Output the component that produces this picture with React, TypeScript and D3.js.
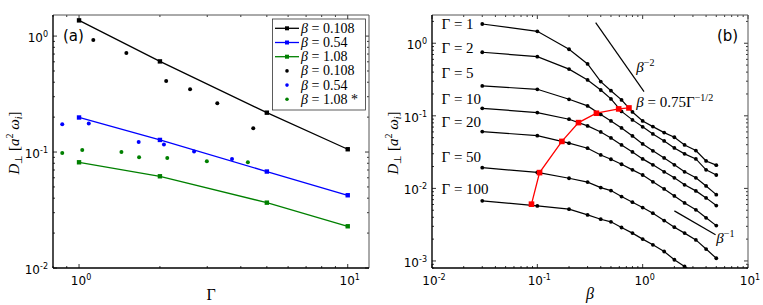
import { useRef, useEffect } from 'react';
import * as d3 from 'd3';

// ---- panel (a): D vs Gamma ----
const gammaFit = [1, 2, 5, 10];
const fitB0108 = [1.366, 0.605, 0.2185, 0.1057];
const fitB054 = [0.1986, 0.1272, 0.0679, 0.0424];
const fitB108 = [0.0816, 0.0618, 0.0366, 0.0229];

const dotsB0108Gamma = [1.13, 1.5, 2.11, 2.59, 3.27, 4.45];
const dotsB0108D = [0.924, 0.713, 0.409, 0.348, 0.264, 0.1605];
const dotsB054Gamma = [0.866, 1.087, 1.667, 2.07, 2.68, 3.71];
const dotsB054D = [0.174, 0.176, 0.1223, 0.116, 0.101, 0.0872];
const dotsB108Gamma = [0.866, 1.028, 1.438, 1.673, 2.13, 2.99, 4.25];
const dotsB108D = [0.0982, 0.1043, 0.1002, 0.0902, 0.0889, 0.0833, 0.0816];

const legendLabels = ['0.108', '0.54', '1.08', '0.108', '0.54', '1.08 *'];

// ---- panel (b): D vs beta ----
const betas = [0.03, 0.1, 0.2, 0.3, 0.4, 0.5, 0.63, 0.8, 1.0, 1.25, 1.6, 2.0, 2.5, 3.2, 4.0, 5.0];
const gammas = [1, 2, 5, 10, 20, 50, 100];
const dG1 = [1.84, 1.46, 0.827, 0.519, 0.296, 0.222, 0.1656, 0.113, 0.0851, 0.071, 0.0587, 0.0507, 0.0397, 0.0332, 0.0239, 0.0209];
const dG2 = [0.752, 0.653, 0.44, 0.312, 0.227, 0.171, 0.115, 0.0879, 0.0705, 0.0563, 0.0451, 0.0361, 0.0299, 0.0255, 0.018, 0.0153];
const dG5 = [0.258, 0.232, 0.169, 0.137, 0.1045, 0.0851, 0.068, 0.0528, 0.041, 0.0329, 0.0263, 0.0211, 0.0169, 0.014, 0.0108, 0.0082];
const dG10 = [0.127, 0.1107, 0.0898, 0.0726, 0.06, 0.0496, 0.0397, 0.0318, 0.0255, 0.0211, 0.0169, 0.014, 0.0112, 0.00924, 0.0074, 0.0058];
const dG20 = [0.0606, 0.0533, 0.042, 0.0358, 0.0289, 0.0252, 0.0215, 0.018, 0.0153, 0.0123, 0.00984, 0.00788, 0.0063, 0.00506, 0.00393, 0.00307];
const dG50 = [0.0193, 0.0166, 0.0138, 0.0122, 0.01026, 0.00933, 0.00771, 0.00645, 0.00544, 0.00455, 0.0036, 0.00292, 0.00242, 0.00195, 0.00146, 0.00109];
const dG100 = [0.00673, 0.00574, 0.00517, 0.00431, 0.00376, 0.00346, 0.00289, 0.00242, 0.002, 0.00167, 0.00135, 0.00104, 0.00084, 0.00066, 0.00051, 0.0004];
const gammaLabelD = [1.84, 0.85, 0.39, 0.17, 0.083, 0.027, 0.0098];

const betaOpt = [0.088, 0.105, 0.171, 0.246, 0.364, 0.592, 0.741];
const dOpt = [0.00606, 0.0165, 0.0444, 0.0806, 0.1086, 0.1245, 0.1284];

const guideMinus2 = [[0.358, 1.92], [1.03, 0.216]];
const guideMinus1 = [[2.0, 0.0049], [4.92, 0.00229]];

const SERIF = '"Liberation Serif", "Times New Roman", serif';
const SANS = '"DejaVu Sans", sans-serif';

type Box = { l: number; r: number; t: number; b: number };
type Sel = d3.Selection<SVGGElement, unknown, null, undefined>;

function logTicks(lo: number, hi: number) {
  const major: number[] = [];
  const minor: number[] = [];
  for (let e = Math.floor(Math.log10(lo)); e <= Math.ceil(Math.log10(hi)); e++) {
    for (let m = 1; m < 10; m++) {
      const v = m * Math.pow(10, e);
      if (v < lo * 0.999 || v > hi * 1.001) continue;
      (m === 1 ? major : minor).push(v);
    }
  }
  return { major, minor };
}

function powLabel(sel: d3.Selection<SVGTextElement, unknown, null, undefined>, v: number) {
  const e = Math.round(Math.log10(v));
  sel.append('tspan').text('10');
  sel.append('tspan').attr('dy', -5).attr('font-size', 8).text(String(e));
}

function frame(g: Sel, box: Box, x: d3.ScaleLogarithmic<number, number>, y: d3.ScaleLogarithmic<number, number>) {
  const xt = logTicks(x.domain()[0], x.domain()[1]);
  const yt = logTicks(y.domain()[0], y.domain()[1]);
  const tk = g.append('g').attr('stroke', '#000').attr('stroke-width', 0.8);
  const addX = (vals: number[], len: number) => vals.forEach(v => {
    tk.append('line').attr('x1', x(v)).attr('x2', x(v)).attr('y1', box.b).attr('y2', box.b - len);
    tk.append('line').attr('x1', x(v)).attr('x2', x(v)).attr('y1', box.t).attr('y2', box.t + len);
  });
  const addY = (vals: number[], len: number) => vals.forEach(v => {
    tk.append('line').attr('y1', y(v)).attr('y2', y(v)).attr('x1', box.l).attr('x2', box.l + len);
    tk.append('line').attr('y1', y(v)).attr('y2', y(v)).attr('x1', box.r).attr('x2', box.r - len);
  });
  addX(xt.major, 4); addX(xt.minor, 2);
  addY(yt.major, 4); addY(yt.minor, 2);

  xt.major.forEach(v => {
    const t = g.append('text').attr('x', x(v) + 2).attr('y', box.b + 17)
      .attr('text-anchor', 'middle').attr('font-family', SANS).attr('font-size', 12).attr('fill', '#000');
    powLabel(t, v);
  });
  yt.major.forEach(v => {
    const t = g.append('text').attr('x', box.l - 5).attr('y', y(v) + 6)
      .attr('text-anchor', 'end').attr('font-family', SANS).attr('font-size', 12).attr('fill', '#000');
    powLabel(t, v);
  });

  g.append('line').attr('x1', box.l).attr('x2', box.r).attr('y1', box.t).attr('y2', box.t).attr('stroke', '#555').attr('stroke-width', 1);
  g.append('line').attr('x1', box.r).attr('x2', box.r).attr('y1', box.t).attr('y2', box.b).attr('stroke', '#555').attr('stroke-width', 1);
  g.append('line').attr('x1', box.l).attr('x2', box.r).attr('y1', box.b).attr('y2', box.b).attr('stroke', '#000').attr('stroke-width', 1.4);
  g.append('line').attr('x1', box.l).attr('x2', box.l).attr('y1', box.t).attr('y2', box.b).attr('stroke', '#000').attr('stroke-width', 1.4);
}

function yLabel(g: Sel, x: number, y: number) {
  const t = g.append('text').attr('transform', `translate(${x},${y}) rotate(-90)`)
    .attr('text-anchor', 'middle').attr('font-family', SERIF).attr('font-size', 15).attr('fill', '#000');
  t.append('tspan').attr('font-style', 'italic').text('D');
  t.append('tspan').attr('font-size', 10).attr('dy', 3).text('\u22A5');
  t.append('tspan').attr('dy', -3).text(' [');
  t.append('tspan').attr('font-style', 'italic').text('a');
  t.append('tspan').attr('font-size', 10).attr('dy', -6).text('2');
  t.append('tspan').attr('dy', 6).text(' ');
  t.append('tspan').attr('font-style', 'italic').text('\u03C9');
  t.append('tspan').attr('font-style', 'italic').attr('font-size', 10).attr('dy', 3).text('i');
  t.append('tspan').attr('dy', -3).text(']');
}

export default function App() {
  const svgRef = useRef<SVGSVGElement>(null);

  useEffect(() => {
    if (!svgRef.current) return;
    document.body.style.margin = '0';
    const svg = d3.select(svgRef.current);
    svg.selectAll('*').remove();

    // ---------- panel (a) ----------
    const boxA: Box = { l: 53, r: 369, t: 15, b: 268 };
    const xa = d3.scaleLog().domain([0.8, 12]).range([boxA.l, boxA.r]);
    const ya = d3.scaleLog().domain([0.01, 1.52]).range([boxA.b, boxA.t]);
    const ga = svg.append('g') as unknown as Sel;

    svg.append('defs').append('clipPath').attr('id', 'clipA')
      .append('rect').attr('x', boxA.l).attr('y', boxA.t).attr('width', boxA.r - boxA.l).attr('height', boxA.b - boxA.t);

    const da = ga.append('g').attr('clip-path', 'url(#clipA)');
    const fits: [number[], string][] = [[fitB0108, '#000'], [fitB054, '#0000ff'], [fitB108, '#008000']];
    const lineA = d3.line<[number, number]>().x(d => xa(d[0])).y(d => ya(d[1]));
    fits.forEach(([vals, c]) => {
      const pts = gammaFit.map((gm, i) => [gm, vals[i]] as [number, number]);
      da.append('path').attr('d', lineA(pts)).attr('fill', 'none').attr('stroke', c).attr('stroke-width', 1.3);
      pts.forEach(p => da.append('rect').attr('x', xa(p[0]) - 2.2).attr('y', ya(p[1]) - 2.2)
        .attr('width', 4.4).attr('height', 4.4).attr('fill', c));
    });
    const dots: [number[], number[], string][] = [
      [dotsB0108Gamma, dotsB0108D, '#000'],
      [dotsB054Gamma, dotsB054D, '#0000ff'],
      [dotsB108Gamma, dotsB108D, '#008000'],
    ];
    dots.forEach(([gx, dy, c]) => gx.forEach((gm, i) =>
      da.append('circle').attr('cx', xa(gm)).attr('cy', ya(dy[i])).attr('r', 2).attr('fill', c)));

    frame(ga, boxA, xa, ya);

    // legend
    const lg = ga.append('g');
    lg.append('rect').attr('x', 272.5).attr('y', 19).attr('width', 93).attr('height', 91)
      .attr('fill', '#fff').attr('stroke', '#333').attr('stroke-width', 0.8);
    const legColors = ['#000', '#0000ff', '#008000', '#000', '#0000ff', '#008000'];
    legendLabels.forEach((lab, i) => {
      const cy = 28.3 + i * 14.2;
      if (i < 3) {
        lg.append('line').attr('x1', 275).attr('x2', 299).attr('y1', cy).attr('y2', cy)
          .attr('stroke', legColors[i]).attr('stroke-width', 1.3);
        lg.append('rect').attr('x', 285).attr('y', cy - 2).attr('width', 4).attr('height', 4).attr('fill', legColors[i]);
      } else {
        lg.append('circle').attr('cx', 287).attr('cy', cy).attr('r', 1.8).attr('fill', legColors[i]);
      }
      const t = lg.append('text').attr('x', 301).attr('y', cy + 4.5)
        .attr('font-family', SERIF).attr('font-size', 14).attr('fill', '#000');
      t.append('tspan').attr('font-style', 'italic').text('\u03B2');
      t.append('tspan').text(' = ' + lab);
    });

    ga.append('text').attr('x', 63).attr('y', 41).attr('font-family', SANS).attr('font-size', 15).text('(a)');
    ga.append('text').attr('x', (boxA.l + boxA.r) / 2).attr('y', 300).attr('text-anchor', 'middle')
      .attr('font-family', SERIF).attr('font-size', 16).text('\u0393');
    yLabel(ga, 19, 143);

    // ---------- panel (b) ----------
    const boxB: Box = { l: 432, r: 748, t: 15, b: 268 };
    const xb = d3.scaleLog().domain([0.01, 10]).range([boxB.l, boxB.r]);
    const yb = d3.scaleLog().domain([0.0008, 2.45]).range([boxB.b, boxB.t]);
    const gb = svg.append('g') as unknown as Sel;
    svg.select('defs').append('clipPath').attr('id', 'clipB')
      .append('rect').attr('x', boxB.l).attr('y', boxB.t).attr('width', boxB.r - boxB.l).attr('height', boxB.b - boxB.t);
    const db = gb.append('g').attr('clip-path', 'url(#clipB)');
    const lineB = d3.line<[number, number]>().x(d => xb(d[0])).y(d => yb(d[1]));

    const series = [dG1, dG2, dG5, dG10, dG20, dG50, dG100];
    series.forEach(vals => {
      const pts = betas.map((b, i) => [b, vals[i]] as [number, number]);
      db.append('path').attr('d', lineB(pts)).attr('fill', 'none').attr('stroke', '#000').attr('stroke-width', 1.2);
      pts.forEach(p => db.append('circle').attr('cx', xb(p[0])).attr('cy', yb(p[1])).attr('r', 1.9).attr('fill', '#000'));
    });

    const opt = betaOpt.map((b, i) => [b, dOpt[i]] as [number, number]);
    db.append('path').attr('d', lineB(opt)).attr('fill', 'none').attr('stroke', '#ff0000').attr('stroke-width', 1.3);
    opt.forEach(p => db.append('rect').attr('x', xb(p[0]) - 2.8).attr('y', yb(p[1]) - 2.8)
      .attr('width', 5.6).attr('height', 5.6).attr('fill', '#ff0000'));

    [guideMinus2, guideMinus1].forEach(gd => {
      db.append('path').attr('d', lineB(gd as [number, number][])).attr('fill', 'none')
        .attr('stroke', '#000').attr('stroke-width', 1.2);
    });

    frame(gb, boxB, xb, yb);

    gammas.forEach((gm, i) => {
      const t = gb.append('text').attr('x', xb(0.0123)).attr('y', yb(gammaLabelD[i]) + 5)
        .attr('font-family', SERIF).attr('font-size', 15).attr('fill', '#000');
      t.append('tspan').text('\u0393 = ' + gm);
    });

    const ann = (b: number, d: number, exp: string, pre: string) => {
      const t = gb.append('text').attr('x', xb(b)).attr('y', yb(d))
        .attr('font-family', SERIF).attr('font-size', 15).attr('fill', '#000');
      t.append('tspan').attr('font-style', 'italic').text('\u03B2');
      if (pre) t.append('tspan').text(pre);
      t.append('tspan').attr('dy', -6).attr('font-size', 10).text(exp);
    };
    ann(0.871, 0.402, '\u22122', '');
    ann(5.0, 0.00178, '\u22121', '');
    ann(0.871, 0.133, '\u22121/2', ' = 0.75\u0393');

    gb.append('text').attr('x', 717).attr('y', 41).attr('font-family', SANS).attr('font-size', 15).text('(b)');
    gb.append('text').attr('x', (boxB.l + boxB.r) / 2).attr('y', 299).attr('text-anchor', 'middle')
      .attr('font-family', SERIF).attr('font-style', 'italic').attr('font-size', 16).text('\u03B2');
    yLabel(gb, 398, 143);
  }, []);

  return <svg ref={svgRef} width={763} height={305} style={{ display: 'block', background: '#fff' }} />;
}
